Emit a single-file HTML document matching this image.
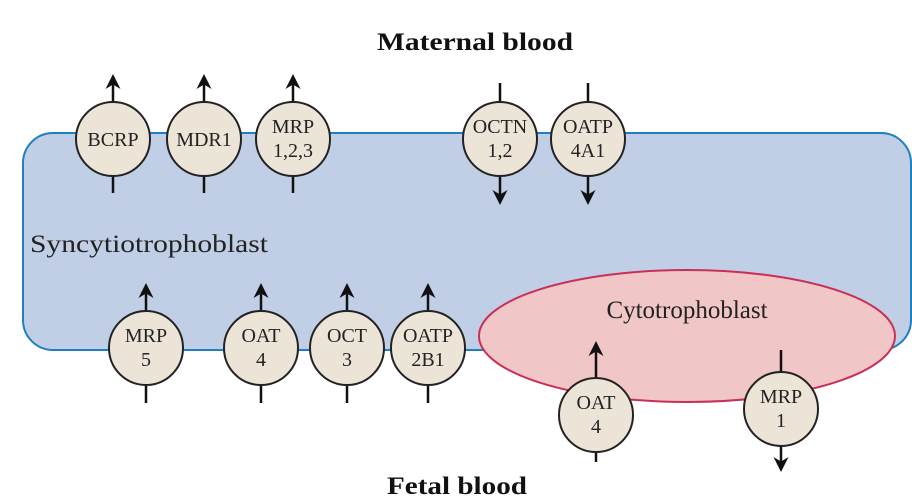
<!DOCTYPE html>
<html><head><meta charset="utf-8"><style>html,body{margin:0;padding:0;background:#fff}svg{display:block}</style></head>
<body>
<svg width="912" height="500" viewBox="0 0 912 500" xmlns="http://www.w3.org/2000/svg" font-family="Liberation Serif, serif">
<defs>
<marker id="ah" viewBox="0 0 10 10" refX="6" refY="5" markerWidth="7" markerHeight="6" orient="auto-start-reverse" markerUnits="strokeWidth">
<path d="M0,0 L10,5 L0,10 L3,5 z" fill="#111"/></marker>
</defs>
<rect x="23" y="133" width="888" height="217" rx="30" fill="#c0cfe6" stroke="#1f7fc0" stroke-width="2"/>
<ellipse cx="687" cy="336" rx="208" ry="66" fill="#f0c6c6" stroke="#c8305a" stroke-width="2"/>
<text x="377" y="50" font-size="25" font-weight="bold" textLength="196" lengthAdjust="spacingAndGlyphs" fill="#111">Maternal blood</text>
<text x="387" y="494" font-size="25" font-weight="bold" textLength="140" lengthAdjust="spacingAndGlyphs" fill="#111">Fetal blood</text>
<text x="30" y="252" font-size="25" textLength="238" lengthAdjust="spacingAndGlyphs" fill="#222">Syncytiotrophoblast</text>
<text x="687" y="318" font-size="25" text-anchor="middle" fill="#222">Cytotrophoblast</text>
<g stroke="#111" stroke-width="2.5" fill="none">
<line x1="113" y1="193" x2="113" y2="80" marker-end="url(#ah)"/>
<line x1="204" y1="193" x2="204" y2="80" marker-end="url(#ah)"/>
<line x1="293" y1="193" x2="293" y2="80" marker-end="url(#ah)"/>
<line x1="500" y1="83" x2="500" y2="199" marker-end="url(#ah)"/>
<line x1="588" y1="83" x2="588" y2="199" marker-end="url(#ah)"/>
<line x1="146" y1="403" x2="146" y2="289" marker-end="url(#ah)"/>
<line x1="261" y1="403" x2="261" y2="289" marker-end="url(#ah)"/>
<line x1="347" y1="403" x2="347" y2="289" marker-end="url(#ah)"/>
<line x1="428" y1="403" x2="428" y2="289" marker-end="url(#ah)"/>
<line x1="596" y1="462" x2="596" y2="347" marker-end="url(#ah)"/>
<line x1="781" y1="350" x2="781" y2="466" marker-end="url(#ah)"/>
</g>
<g fill="#ede4d8" stroke="#222" stroke-width="2">
<circle cx="113" cy="139" r="37"/><circle cx="204" cy="139" r="37"/><circle cx="293" cy="139" r="37"/>
<circle cx="500" cy="139" r="37"/><circle cx="588" cy="139" r="37"/>
<circle cx="146" cy="348" r="37"/><circle cx="261" cy="348" r="37"/><circle cx="347" cy="348" r="37"/><circle cx="428" cy="348" r="37"/>
<circle cx="596" cy="415" r="37"/><circle cx="781" cy="409" r="37"/>
</g>
<g font-size="20" text-anchor="middle" fill="#222">
<text x="113" y="146">BCRP</text><text x="204" y="146">MDR1</text>
<text x="293" y="133">MRP</text><text x="293" y="157">1,2,3</text>
<text x="500" y="133">OCTN</text><text x="500" y="157">1,2</text>
<text x="588" y="133">OATP</text><text x="588" y="157">4A1</text>
<text x="146" y="342">MRP</text><text x="146" y="366">5</text>
<text x="261" y="342">OAT</text><text x="261" y="366">4</text>
<text x="347" y="342">OCT</text><text x="347" y="366">3</text>
<text x="428" y="342">OATP</text><text x="428" y="366">2B1</text>
<text x="596" y="409">OAT</text><text x="596" y="433">4</text>
<text x="781" y="403">MRP</text><text x="781" y="427">1</text>
</g>
</svg>
</body></html>
